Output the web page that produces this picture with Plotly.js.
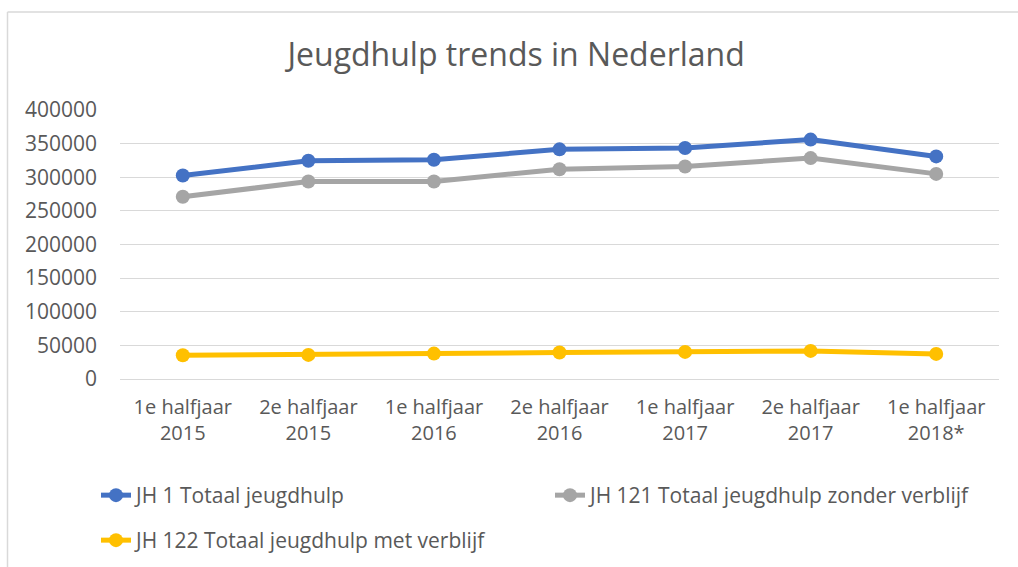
<!DOCTYPE html>
<html>
<head>
<meta charset="utf-8">
<script src="https://cdn.plot.ly/plotly-3.0.1.min.js"></script>
<style>
  html, body { margin: 0; padding: 0; background: #fff; }
  #chart { width: 1018px; height: 567px; }
</style>
</head>
<body>
<div id="chart"></div>
<script>
const categories = [
  "1e halfjaar<br>2015", "2e halfjaar<br>2015", "1e halfjaar<br>2016",
  "2e halfjaar<br>2016", "1e halfjaar<br>2017", "2e halfjaar<br>2017",
  "1e halfjaar<br>2018*"
];
const jh1Totaal = [302500, 324500, 326000, 341500, 343500, 356000, 331000];
const jh121ZonderVerblijf = [271000, 293600, 293600, 312000, 316000, 328500, 305000];
const jh122MetVerblijf = [35300, 35800, 37800, 39300, 40300, 41800, 37300];
const yTicks = [0, 50000, 100000, 150000, 200000, 250000, 300000, 350000, 400000];

const seriesNames = [
  "JH 1 Totaal jeugdhulp",
  "JH 121 Totaal jeugdhulp zonder verblijf",
  "JH 122 Totaal jeugdhulp met verblijf"
];
const colors = ["#4472C4", "#A5A5A5", "#FFC000"];
const allSeries = [jh1Totaal, jh121ZonderVerblijf, jh122MetVerblijf];
const legendIds = ["legend", "legend2", "legend3"];

const traces = allSeries.map((vals, i) => ({
  type: "scatter",
  mode: "lines+markers",
  name: seriesNames[i],
  legend: legendIds[i],
  x: categories,
  y: vals,
  line: { color: colors[i], width: 5 },
  marker: { color: colors[i], size: 14 }
}));

const L = 120, R = 19, T = 110, B = 188;
const W = 1018, H = 567;
const pw = W - L - R, ph = H - T - B;
const px = v => (v - L) / pw;
const py = v => (H - B - v) / ph;

const font = "'Open Sans', 'Liberation Sans', sans-serif";
const textColor = "#595959";

function legendAt(xPix, yTopPix) {
  return {
    orientation: "h",
    xref: "container", yref: "container",
    x: xPix / W, xanchor: "left",
    y: 1 - yTopPix / H, yanchor: "top",
    font: { family: font, size: 21, color: textColor },
    bgcolor: "rgba(0,0,0,0)"
  };
}

const layout = {
  width: W, height: H,
  margin: { l: L, r: R, t: T, b: B },
  paper_bgcolor: "#fff",
  plot_bgcolor: "#fff",
  font: { family: font, color: textColor, size: 20 },
  title: {
    text: "Jeugdhulp trends in Nederland",
    font: { family: font, size: 32, color: textColor },
    xref: "container", x: 0.507, xanchor: "center",
    yref: "container", y: 1 - 55 / H, yanchor: "middle"
  },
  xaxis: {
    type: "category",
    range: [-0.5, 6.5],
    showgrid: false,
    showline: true, linecolor: "#D9D9D9", linewidth: 1,
    ticks: "", tickfont: { size: 20, color: textColor },
    ticklabelstandoff: 10,
    zeroline: false, fixedrange: true
  },
  yaxis: {
    range: [0, 400000],
    tickvals: yTicks,
    ticktext: yTicks.map(String),
    showgrid: true, gridcolor: "#D9D9D9", gridwidth: 1,
    zeroline: false, showline: false,
    ticks: "", tickfont: { size: 21, color: textColor },
    ticklabelstandoff: 22,
    fixedrange: true
  },
  showlegend: true,
  legend: legendAt(96, 475),
  legend2: legendAt(550, 475),
  legend3: legendAt(96, 520),
  shapes: [
    { type: "line", xref: "paper", yref: "paper",
      x0: px(7.5), x1: px(7.5), y0: py(12), y1: py(575),
      line: { color: "#D9D9D9", width: 1.5 } },
    { type: "line", xref: "paper", yref: "paper",
      x0: px(7.5), x1: px(1025), y0: py(12), y1: py(12),
      line: { color: "#D9D9D9", width: 1.5 } }
  ]
};

Plotly.newPlot("chart", traces, layout, { displayModeBar: false, staticPlot: true });
</script>
</body>
</html>
